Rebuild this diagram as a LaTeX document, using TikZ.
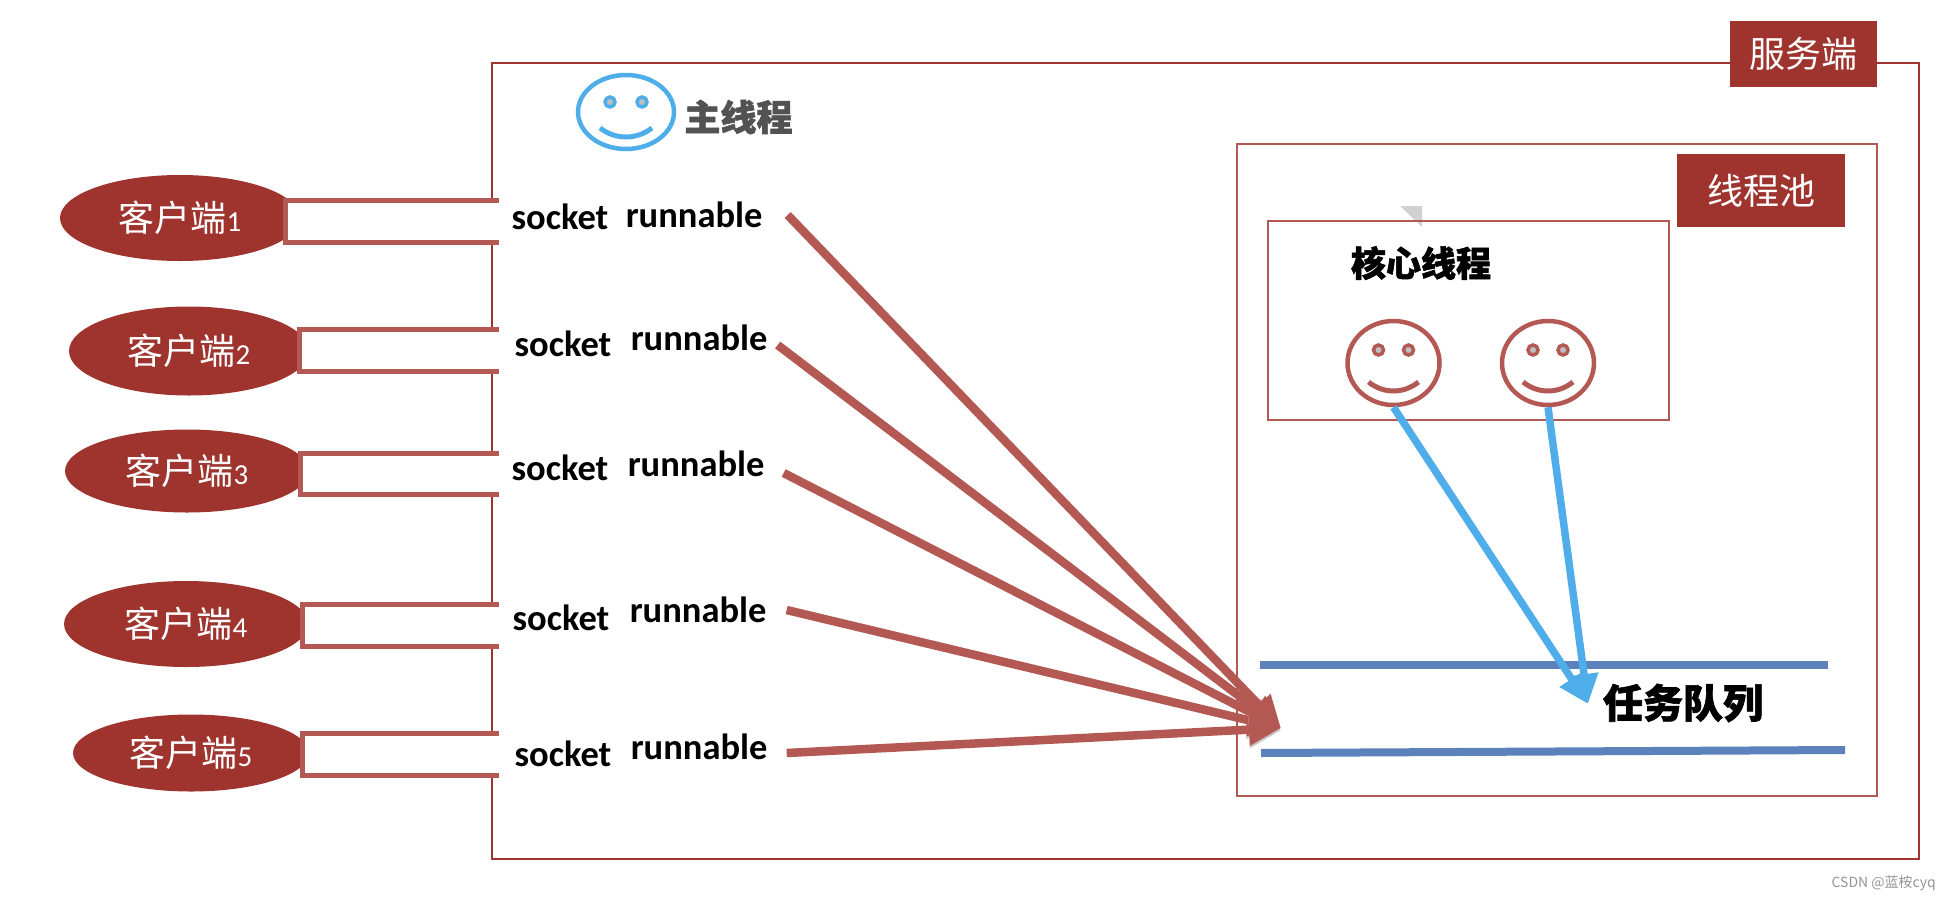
\documentclass[tikz,border=0pt]{standalone}
\usepackage{fontspec}
\setmainfont{Carlito}
\newfontfamily\cjk{Noto Sans CJK SC}[BoldFeatures={FakeBold=1.6}]
\usepackage{tikz}
\usetikzlibrary{arrows.meta, positioning}
\usetikzlibrary{shapes,shapes.geometric}
\definecolor{darkred}{HTML}{9E342D}
\definecolor{softred}{HTML}{B35852}
\definecolor{queueblue}{HTML}{5B82BA}
\definecolor{skyblue}{HTML}{4FAEEA}
\tikzset{
	client/.style={ellipse, fill=darkred, text=white, inner sep=0pt},
	tagbox/.style={fill=darkred, text=white, inner sep=0pt, font=\fontsize{36}{36}\selectfont\cjk},
	sockettext/.style={inner sep=0pt, text height=27pt, text depth=1pt, font=\fontsize{36.5}{36.5}\selectfont\bfseries},
	face/.style={ellipse, draw=softred, line width=4.5pt, minimum width=92pt, minimum height=84pt, inner sep=0pt},
	title/.style={inner sep=0pt, font=\fontsize{35}{35}\selectfont\cjk\bfseries},
	flow/.style={softred, line width=8.5pt, -{Triangle[width=30pt,length=32pt]}, preaction={draw=black!22, transform canvas={yshift=-2.5pt}}},
	take/.style={skyblue, line width=7.5pt, -{Triangle[width=27pt,length=30pt]}, preaction={draw=black!18, transform canvas={yshift=-2pt}}},
	queue/.style={queueblue, line width=8pt, preaction={draw=black!22, transform canvas={yshift=-3pt}}},
}
\newcommand{\clienttext}[1]{{\fontsize{36}{36}\selectfont\cjk 客户端}{\fontsize{29}{29}\selectfont #1}}
% open slot between a client and the server box
\newcommand{\clientslot}[3]{
	\fill[white] (#1,#2) rectangle (499,#3);
	\draw[softred, line width=5pt] (499,#2) -- (#1,#2) -- (#1,#3) -- (499,#3);
}
\newcommand{\facemarks}[6]{
	\begin{scope}[shift={(#1)}, #2, line width=5pt]
		\draw[fill=black!25, line width=3.5pt] (-#3,#4) ellipse (5 and 5);
		\draw[fill=black!25, line width=3.5pt] (#3,#4) ellipse (5 and 5);
		\draw (-#5,#6) .. controls (-#5*0.4,#6+12) and (#5*0.4,#6+12) .. (#5,#6);
	\end{scope}
}

\begin{document}
\begin{tikzpicture}[x=1pt, y=-1pt]
	\useasboundingbox (0,0) rectangle (1952,900);

	\draw[darkred, line width=2.2pt] (492,63) rectangle (1919,859);
	\node[tagbox, minimum width=147pt, minimum height=66pt] (server) at (1803.5,54) {服务端};
	\draw[softred, line width=2.2pt] (1237,144) rectangle (1877,796);
	\node[tagbox, minimum width=168pt, minimum height=73pt] (pool) at (1761,190.5) {线程池};
	\fill[black!18] (1400,206) -- (1422,206) -- (1422,227) -- cycle;
	\draw[softred, line width=2pt] (1268,221) rectangle (1669,420);
	\node[title] (core) at (1421,263) {核心线程};

	\node[client, minimum width=240pt, minimum height=86pt] (c1) at (180,218) {\clienttext{1}};
	\node[client, minimum width=240pt, minimum height=89pt] (c2) at (189,351) {\clienttext{2}};
	\node[client, minimum width=244pt, minimum height=83pt] (c3) at (187,471) {\clienttext{3}};
	\node[client, minimum width=244pt, minimum height=86pt] (c4) at (186,624) {\clienttext{4}};
	\node[client, minimum width=236pt, minimum height=77pt] (c5) at (191,753) {\clienttext{5}};

	\clientslot{285}{200}{242}
	\clientslot{299}{329}{371}
	\clientslot{300}{453}{494}
	\clientslot{302}{604}{646}
	\clientslot{302}{733}{775}

	\node[sockettext] (s1) at (560,216) {socket};
	\node[sockettext, right=17pt of s1, yshift=2pt] (r1) {runnable};
	\node[sockettext] (s2) at (563,343) {socket};
	\node[sockettext, right=19pt of s2, yshift=6pt] (r2) {runnable};
	\node[sockettext] (s3) at (560,467) {socket};
	\node[sockettext, right=19pt of s3, yshift=4pt] (r3) {runnable};
	\node[sockettext] (s4) at (561,617) {socket};
	\node[sockettext, right=20pt of s4, yshift=8pt] (r4) {runnable};
	\node[sockettext] (s5) at (563,753) {socket};
	\node[sockettext, right=19pt of s5, yshift=7pt] (r5) {runnable};

	\node[face, draw=skyblue, minimum width=96pt, minimum height=74pt] (f0) at (626,112) {};
	\facemarks{f0}{skyblue}{16}{-10}{26}{16}
	\node[inner sep=0pt, text=black!68, font=\fontsize{36}{36}\selectfont\cjk\bfseries, right=8pt of f0, yshift=-5pt] (mainthread) {主线程};
	\node[face] (f1) at (1393.5,363) {};
	\facemarks{f1}{softred}{15}{-13}{25}{19}
	\node[face, right=58pt of f1] (f2) {};
	\facemarks{f2}{softred}{15}{-13}{25}{19}

	\coordinate (qa) at (1260,665);
	\coordinate (qb) at (1828,665);
	\coordinate (qc) at (1261,753);
	\coordinate (qd) at (1845,750);
	\draw[queue] (qa) -- (qb);
	\draw[queue] (qc) -- (qd);
	\node[inner sep=0pt, font=\fontsize{40}{40}\selectfont\cjk\bfseries] (tasks) at (1683,703) {任务队列};

	\coordinate (qin) at (1281,728);
	\coordinate (qout) at (1588,704);
	\draw[flow] ([xshift=25pt,yshift=-1pt]r1.east) -- (qin);
	\draw[flow] ([xshift=10pt,yshift=-8pt]r2.east) -- (qin);
	\draw[flow] ([xshift=19pt,yshift=-10pt]r3.east) -- (qin);
	\draw[flow] ([xshift=20pt,yshift=-1pt]r4.east) -- (qin);
	\draw[flow] ([xshift=19pt,yshift=-7pt]r5.east) -- (qin);
	\draw[take] (f1.south) -- (qout);
	\draw[take] (f2.south) -- (qout);

	\node[inner sep=0pt, text=black!42, font=\fontsize{14}{14}\selectfont\cjk, anchor=east] (mark) at (1936,883) {CSDN @蓝桉cyq};
\end{tikzpicture}
\end{document}
